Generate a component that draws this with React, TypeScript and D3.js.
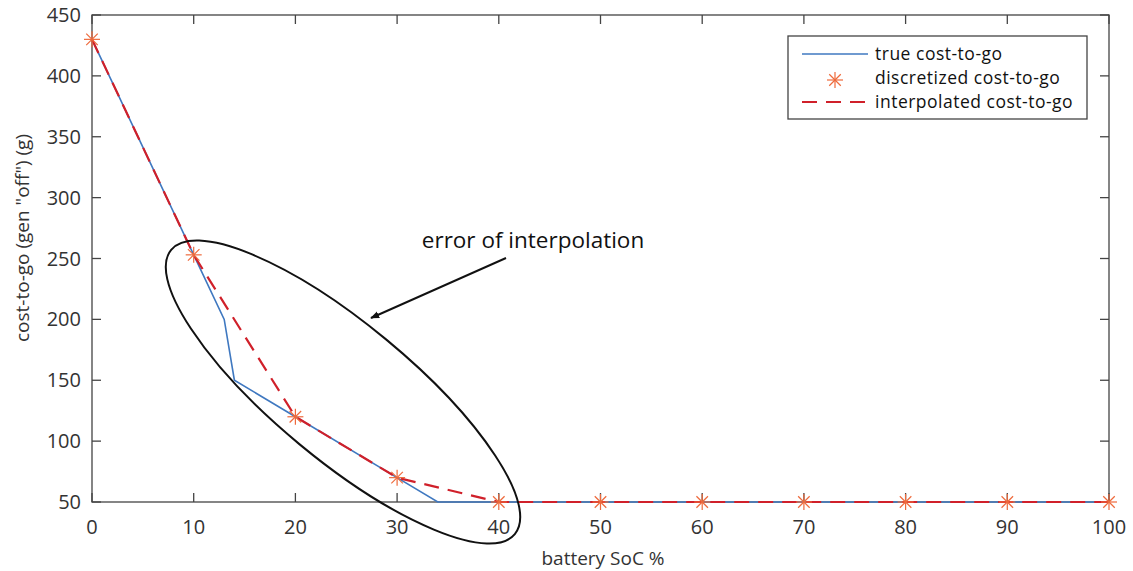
import React from "react";
import * as d3 from "d3";

const trueX = [0, 10, 13, 14, 20, 30, 34, 40, 50, 60, 70, 80, 90, 100];
const trueY = [430, 253, 200, 150, 120, 70, 50, 50, 50, 50, 50, 50, 50, 50];
const discX = [0, 10, 20, 30, 40, 50, 60, 70, 80, 90, 100];
const discY = [430, 253, 120, 70, 50, 50, 50, 50, 50, 50, 50];
const xTicks = [0, 10, 20, 30, 40, 50, 60, 70, 80, 90, 100];
const yTicks = [50, 100, 150, 200, 250, 300, 350, 400, 450];
const legendLabels = ["true cost-to-go", "discretized cost-to-go", "interpolated cost-to-go"];

const W = 1133, H = 571;
const M = { left: 92, top: 15, right: 1109, bottom: 502 };
const FONT = "'Open Sans', sans-serif";
const BLUE = "#3f78c0";
const STAR = "#ee6a3c";
const RED = "#d0202a";
const AXIS = "#444";

function Star({ x, y, r = 8 }: { x: number; y: number; r?: number }) {
  const d = r * 0.72;
  return (
    <g stroke={STAR} strokeWidth={1.2}>
      <line x1={x - r} y1={y} x2={x + r} y2={y} />
      <line x1={x} y1={y - r} x2={x} y2={y + r} />
      <line x1={x - d} y1={y - d} x2={x + d} y2={y + d} />
      <line x1={x - d} y1={y + d} x2={x + d} y2={y - d} />
    </g>
  );
}

export default function App() {
  const x = d3.scaleLinear().domain([0, 100]).range([M.left, M.right]);
  const y = d3.scaleLinear().domain([50, 450]).range([M.bottom, M.top]);
  const line = d3.line<[number, number]>().x((d) => x(d[0])).y((d) => y(d[1]));
  const truePts = trueX.map((v, i) => [v, trueY[i]] as [number, number]);
  const discPts = discX.map((v, i) => [v, discY[i]] as [number, number]);
  const tl = 9;

  return (
    <svg width={W} height={H} style={{ position: "absolute", left: 0, top: 0, background: "#fff" }}>
      <rect x={0} y={0} width={W} height={H} fill="#fff" />
      {/* box */}
      <rect x={M.left} y={M.top} width={M.right - M.left} height={M.bottom - M.top} fill="none" stroke={AXIS} strokeWidth={1.3} />
      {xTicks.map((t) => (
        <g key={"xt" + t}>
          <line x1={x(t)} x2={x(t)} y1={M.bottom} y2={M.bottom - tl} stroke={AXIS} strokeWidth={1.3} />
          <line x1={x(t)} x2={x(t)} y1={M.top} y2={M.top + tl} stroke={AXIS} strokeWidth={1.3} />
          <text x={x(t)} y={534} textAnchor="middle" fontFamily={FONT} fontSize={20} fill="#333">{t}</text>
        </g>
      ))}
      {yTicks.map((t) => (
        <g key={"yt" + t}>
          <line x1={M.left} x2={M.left + tl} y1={y(t)} y2={y(t)} stroke={AXIS} strokeWidth={1.3} />
          <line x1={M.right} x2={M.right - tl} y1={y(t)} y2={y(t)} stroke={AXIS} strokeWidth={1.3} />
          <text x={81} y={y(t) + 7} textAnchor="end" fontFamily={FONT} fontSize={20} fill="#333">{t}</text>
        </g>
      ))}
      <text x={603} y={565} textAnchor="middle" fontFamily={FONT} fontSize={19} fill="#333">battery SoC %</text>
      <text transform="translate(29,238) rotate(-90)" textAnchor="middle" fontFamily={FONT} fontSize={19} fill="#333">
        cost-to-go (gen "off") (g)
      </text>

      {/* series */}
      <path d={line(truePts) || ""} fill="none" stroke={BLUE} strokeWidth={1.6} />
      <path d={line(discPts) || ""} fill="none" stroke={RED} strokeWidth={2.2} strokeDasharray="15,9" />
      {discPts.map((p, i) => (
        <Star key={"s" + i} x={x(p[0])} y={y(p[1])} />
      ))}

      {/* annotation */}
      <ellipse cx={343} cy={392} rx={223} ry={68} transform="rotate(39.6 343 392)" fill="none" stroke="#111" strokeWidth={2} />
      <defs>
        <marker id="arr" viewBox="0 0 10 10" refX={9} refY={5} markerWidth={9} markerHeight={9} orient="auto" markerUnits="userSpaceOnUse">
          <path d="M0,1 L10,5 L0,9 Z" fill="#111" />
        </marker>
      </defs>
      <line x1={506} y1={258} x2={371} y2={318} stroke="#111" strokeWidth={2} markerEnd="url(#arr)" />
      <text x={533} y={248} textAnchor="middle" fontFamily={FONT} fontSize={22.5} fill="#111">error of interpolation</text>

      {/* legend */}
      <rect x={788} y={36} width={299} height={83} fill="#fff" stroke={AXIS} strokeWidth={1.3} />
      <line x1={802} x2={868} y1={54} y2={54} stroke={BLUE} strokeWidth={1.6} />
      <Star x={835} y={80} />
      <line x1={802} x2={868} y1={102} y2={102} stroke={RED} strokeWidth={2.2} strokeDasharray="15,9" />
      {legendLabels.map((s, i) => (
        <text key={s} x={875} y={60 + i * 24} fontFamily={FONT} fontSize={17.5} letterSpacing={0.5} fill="#111">{s}</text>
      ))}
    </svg>
  );
}
